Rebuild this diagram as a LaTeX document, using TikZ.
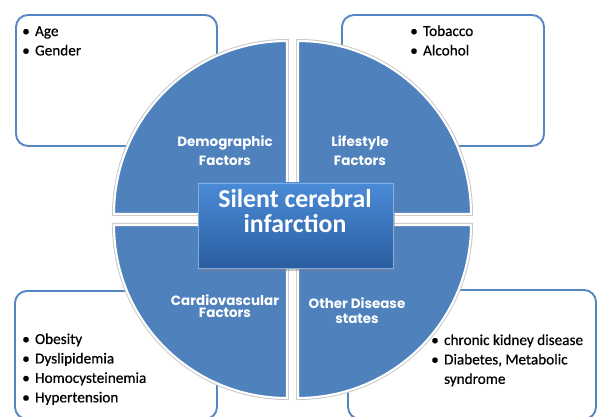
\documentclass[tikz,border=0pt]{standalone}
\usepackage{fontspec}
\setmainfont{Carlito}
\newfontfamily\labelfont{Poppins}
\newfontfamily\itemfont{Carlito}[FakeBold=0.5]
\usetikzlibrary{shadows}
\definecolor{quadblue}{RGB}{79,129,189}
\definecolor{boxline}{RGB}{84,134,196}
\definecolor{centertop}{RGB}{74,139,214}
\definecolor{centerbot}{RGB}{44,94,160}
\tikzset{
  factorbox/.style={draw=boxline, line width=1.6pt, fill=white, rounded corners=0.36cm},
  quadedge/.style={draw=black!22, line width=3.4pt, line join=miter},
  quadrant/.style={fill=quadblue, draw=white, line width=1.8pt, line join=miter},
  centerbox/.style={top color=centertop, bottom color=centerbot, draw=centertop!70!white, line width=0.6pt,
    drop shadow={opacity=0.45, shadow xshift=0.06cm, shadow yshift=-0.09cm}},
  centertext/.style={text=white, align=center, font=\fontsize{22}{21.3}\selectfont\bfseries},
  factorlabel/.style={text=white, align=center, font=\labelfont\fontsize{11.5}{16.2}\selectfont\bfseries},
  itemlist/.style={anchor=base west, inner sep=0pt, text=black, font=\itemfont\fontsize{13}{16.6}\selectfont},
}
\newcommand{\bulletlist}[1]{\begin{tabular}[t]{@{}l@{\hspace{4.5pt}}l@{}}#1\end{tabular}}

\begin{document}
\begin{tikzpicture}
\useasboundingbox (0,0) rectangle (18.03,12.51);
\draw[factorbox] (0.48,8.13) rectangle (6.51,12.06);
\draw[factorbox] (10.26,8.13) rectangle (16.32,12.06);
\draw[factorbox] (0.45,-0.06) rectangle (6.51,3.78);
\draw[factorbox] (10.44,-0.06) rectangle (17.88,3.81);
\draw[quadedge] (8.61,6.09) -- (3.42,6.09) arc[start angle=180, end angle=90, radius=5.19] -- cycle;
\draw[quadedge] (8.94,6.09) -- (8.94,11.28) arc[start angle=90, end angle=0, radius=5.19] -- cycle;
\draw[quadedge] (8.61,5.76) -- (3.42,5.76) arc[start angle=180, end angle=270, radius=5.19] -- cycle;
\draw[quadedge] (8.94,5.76) -- (14.13,5.76) arc[start angle=0, end angle=-90, radius=5.19] -- cycle;
\draw[quadrant] (8.61,6.09) -- (3.42,6.09) arc[start angle=180, end angle=90, radius=5.19] -- cycle;
\draw[quadrant] (8.94,6.09) -- (8.94,11.28) arc[start angle=90, end angle=0, radius=5.19] -- cycle;
\draw[quadrant] (8.61,5.76) -- (3.42,5.76) arc[start angle=180, end angle=270, radius=5.19] -- cycle;
\draw[quadrant] (8.94,5.76) -- (14.13,5.76) arc[start angle=0, end angle=-90, radius=5.19] -- cycle;
\draw[centerbox] (5.94,4.47) rectangle (11.79,7.02);
\node[centertext] (infarct) at (8.85,6.18) {Silent cerebral\\infarction};
\node[factorlabel] (demographic) at (6.75,7.98) {Demographic\\Factors};
\node[factorlabel] (lifestyle) at (10.80,7.98) {Lifestyle\\Factors};
\node[factorlabel, font=\labelfont\fontsize{11.5}{10.6}\selectfont\bfseries] (cardio) at (6.75,3.33) {Cardiovascular\\Factors};
\node[factorlabel, font=\labelfont\fontsize{11.5}{12.8}\selectfont\bfseries] (otherdisease) at (10.71,3.20) {Other Disease\\states};
\node[itemlist] (agelist) at (0.66,11.43) {\bulletlist{\textbullet & Age\\ \textbullet & Gender}};
\node[itemlist] (tobaccolist) at (12.30,11.43) {\bulletlist{\textbullet & Tobacco\\ \textbullet & Alcohol}};
\node[itemlist] (cardiolist) at (0.66,2.19) {\bulletlist{\textbullet & Obesity\\ \textbullet & Dyslipidemia\\ \textbullet & Homocysteinemia\\ \textbullet & Hypertension}};
\node[itemlist] (diseaselist) at (12.93,2.16) {\bulletlist{\textbullet & chronic kidney disease\\ \textbullet & Diabetes, Metabolic\\ & syndrome}};
\end{tikzpicture}
\end{document}
